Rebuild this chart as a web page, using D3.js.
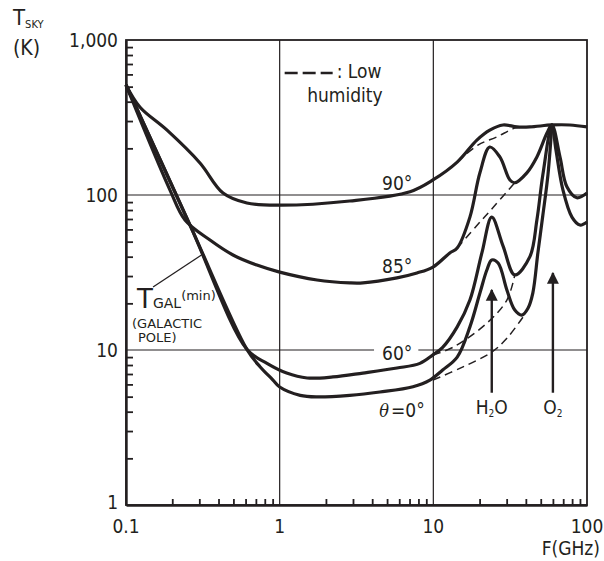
<!DOCTYPE html>
<html lang="en">
<head>
    <meta charset="UTF-8">
    <title>Sky noise temperature</title>
    <script type="application/javascript" src="https://cdn.jsdelivr.net/npm/d3@7"></script>
    <style type="text/css">
        body {
            margin: 0;
            background: #fff;
        }

        svg {
            display: block;
        }

        .lbl {
            font-family: "Liberation Sans Narrow", "DejaVu Sans Condensed", sans-serif;
            font-stretch: condensed;
            fill: #231f20;
        }

        .hand {
            font-family: "DejaVu Sans", sans-serif;
            fill: #231f20;
        }

        .curve {
            fill: none;
            stroke: #231f20;
            stroke-width: 3.2;
            stroke-linejoin: round;
        }

        .dash {
            fill: none;
            stroke: #231f20;
            stroke-width: 1.5;
            stroke-dasharray: 8, 5;
        }

        .grid {
            stroke: #231f20;
            stroke-width: 1.2;
        }

        .axis path, .axis line {
            stroke: #231f20;
        }
    </style>
</head>
<body>
<svg width="604" height="561"></svg>
<script type="application/javascript">
    // tick values and labels
    var X_TICKS = [0.1, 1, 10, 100];
    var X_TICK_LABELS = ['0.1', '1', '10', '100'];
    var Y_TICKS = [1, 10, 100, 1000];
    var Y_TICK_LABELS = ['1', '10', '100', '1,000'];
    var X_GRID = [1, 10];
    var Y_GRID = [10, 100];

    // theta = 90 deg
    var DEG90_F = [0.1, 0.123, 0.185, 0.303, 0.428, 0.612, 1.0, 2.86, 7.05, 9.94, 14.3, 19.2, 23.3, 28.4, 35, 42.5, 59.1, 77.4, 100];
    var DEG90_T = [513, 370, 262, 161, 103, 88.8, 86, 91.5, 105, 125, 163, 226, 262, 283, 275, 275, 283, 283, 275];
    var DEG90_LOW_F = [14.3, 19.5, 25.9, 33.9, 40];
    var DEG90_LOW_T = [163, 210, 237, 270, 275];

    // theta = 85 deg
    var DEG85_F = [0.1, 0.193, 0.242, 0.352, 0.497, 0.711, 1.0, 1.75, 2.86, 3.48, 5.8, 7.82, 9.94, 12.8, 14.3, 17.3, 20.1, 23.3, 27.1, 31.5, 33.9, 40.6, 47.2, 54.9, 59.1, 66.7, 74, 85.9, 100];
    var DEG85_T = [513, 108, 69, 51.2, 41.0, 35.3, 31.8, 28.3, 27.1, 27.1, 29.2, 31.4, 34.3, 42.3, 45.5, 72, 139, 204, 176, 125, 120, 139, 176, 251, 283, 176, 113, 96, 103];
    var DEG85_LOW_F = [14.3, 19.2, 24.4, 33.9];
    var DEG85_LOW_T = [45.5, 63.6, 82.8, 120];

    // theta = 60 deg
    var DEG60_F = [0.1, 0.261, 0.612, 0.827, 1.11, 1.51, 2.22, 3.48, 5.8, 8.18, 9.94, 11.5, 14.3, 17.3, 20.7, 24.0, 28.4, 33.9, 42.5, 47.2, 51.6, 59.1, 62.8, 69.7, 79.8, 89.9, 100];
    var DEG60_T = [513, 64, 10.1, 8.2, 7.1, 6.6, 6.7, 7.1, 7.65, 8.2, 9.3, 10.4, 14.1, 21.0, 42.3, 72, 47, 30.5, 40, 69, 135, 283, 195, 108, 72, 64, 67];
    var DEG60_LOW_F = [9.94, 13.4, 22.3, 30.1, 33.9];
    var DEG60_LOW_T = [9.3, 10.4, 14.9, 21, 30.5];

    // theta = 0 deg (and T_GAL min at low frequency)
    var DEG0_F = [0.1, 0.261, 0.612, 0.745, 0.905, 1.0, 1.36, 1.75, 2.86, 4.49, 7.37, 9.5, 11.5, 14.3, 17.3, 20.1, 22.3, 24.0, 26.4, 30.1, 33.9, 37.7, 41.3, 44.4, 47.9, 51.6, 55.7, 59.1];
    var DEG0_T = [513, 64, 10.1, 7.8, 6.4, 5.77, 5.1, 4.98, 5.1, 5.36, 5.8, 6.4, 7.43, 9.0, 14.1, 23.3, 32.8, 38.1, 36.4, 24.4, 18.1, 16.8, 18.6, 23.3, 42.3, 74, 135, 283];
    var DEG0_LOW_F = [9.94, 15.6, 24.0, 30.1, 38.3];
    var DEG0_LOW_T = [6.4, 7.78, 9.7, 11.9, 16.3];

    // absorption line arrows: frequency, tail T, tip T
    var LINE_NAMES = ['H', 'O'];
    var LINE_F = [24.0, 60];
    var LINE_TAIL_T = [5.3, 5.3];
    var LINE_TIP_T = [24.4, 31.4];

    var svg = d3.select('svg');
    var margin = {top: 40, right: 17, bottom: 56, left: 126};
    var width = +svg.attr('width') - margin.left - margin.right;
    var height = +svg.attr('height') - margin.top - margin.bottom;

    var x = d3.scaleLog().domain([0.1, 100]).range([margin.left, margin.left + width]);
    var y = d3.scaleLog().domain([1, 1000]).range([margin.top + height, margin.top]);

    function zip(fs, ts) {
        return fs.map(function (f, i) { return [f, ts[i]]; });
    }

    var line = d3.line()
            .x(function (d) { return x(d[0]); })
            .y(function (d) { return y(d[1]); })
            .curve(d3.curveCatmullRom.alpha(0.5));

    // minor ticks 2..9 of each decade
    function minors(lo, hi) {
        var out = [];
        for (var e = lo; e < hi; e *= 10) {
            for (var k = 2; k <= 9; k++) out.push(e * k);
        }
        return out;
    }

    // grid
    svg.append('g').selectAll('line')
            .data(X_GRID).enter().append('line')
            .attr('class', 'grid')
            .attr('x1', function (d) { return x(d); })
            .attr('x2', function (d) { return x(d); })
            .attr('y1', y(1000)).attr('y2', y(1));
    svg.append('g').selectAll('line')
            .data(Y_GRID).enter().append('line')
            .attr('class', 'grid')
            .attr('y1', function (d) { return y(d); })
            .attr('y2', function (d) { return y(d); })
            .attr('x1', x(0.1)).attr('x2', x(100));

    // frame: top and right thin
    svg.append('rect')
            .attr('x', x(0.1)).attr('y', y(1000))
            .attr('width', width).attr('height', height)
            .attr('fill', 'none').attr('stroke', '#231f20').attr('stroke-width', 1.8);

    // labels that sit on the grid get a white box
    function degLabel(txt, f, t, boxed) {
        var g = svg.append('g');
        var tx = g.append('text')
                .attr('class', 'lbl')
                .attr('x', x(f)).attr('y', y(t))
                .attr('text-anchor', 'end')
                .attr('font-size', 19)
                .text(txt);
        if (boxed) {
            var b = tx.node().getBBox();
            g.insert('rect', 'text')
                    .attr('x', b.x - 8).attr('y', b.y)
                    .attr('width', b.width + 14).attr('height', b.height)
                    .attr('fill', '#fff');
        }
        return tx;
    }

    degLabel('90°', 7.3, 108, false);
    degLabel('85°', 7.3, 31.4, false);
    degLabel('60°', 7.3, 8.6, true);
    var th = svg.append('text')
            .attr('class', 'lbl')
            .attr('x', x(8.8)).attr('y', y(3.7))
            .attr('text-anchor', 'end')
            .attr('font-size', 19);
    th.append('tspan').attr('font-style', 'italic').attr('font-family', 'DejaVu Serif, serif').attr('font-size', 18).text('θ');
    th.append('tspan').text('=0°').attr('dx', 2);

    // curves
    var solids = [zip(DEG90_F, DEG90_T), zip(DEG85_F, DEG85_T), zip(DEG60_F, DEG60_T), zip(DEG0_F, DEG0_T)];
    var dashes = [zip(DEG90_LOW_F, DEG90_LOW_T), zip(DEG85_LOW_F, DEG85_LOW_T),
        zip(DEG60_LOW_F, DEG60_LOW_T), zip(DEG0_LOW_F, DEG0_LOW_T)];

    svg.append('g').selectAll('path')
            .data(dashes).enter().append('path')
            .attr('class', 'dash')
            .attr('d', line);
    svg.append('g').selectAll('path')
            .data(solids).enter().append('path')
            .attr('class', 'curve')
            .attr('d', line);

    // axes: minor ticks pointing inward
    svg.append('g')
            .attr('class', 'axis')
            .attr('transform', 'translate(' + x(0.1) + ',0)')
            .call(d3.axisRight(y).tickValues(minors(1, 1000)).tickSize(7).tickSizeOuter(0).tickFormat(''))
            .call(function (g) { g.select('.domain').attr('stroke-width', 2.4); })
            .selectAll('line').attr('stroke-width', 1.8);
    svg.append('g')
            .attr('class', 'axis')
            .attr('transform', 'translate(0,' + y(1) + ')')
            .call(d3.axisTop(x).tickValues(minors(0.1, 100)).tickSize(6).tickSizeOuter(0).tickFormat(''))
            .call(function (g) { g.select('.domain').attr('stroke-width', 2.4); })
            .selectAll('line').attr('stroke-width', 1.8);

    // tick labels
    svg.append('g').selectAll('text')
            .data(Y_TICKS).enter().append('text')
            .attr('class', 'lbl')
            .attr('x', x(0.1) - 8)
            .attr('y', function (d) { return y(d); })
            .attr('dy', function (d) { return d === 1 ? '0.2em' : '0.36em'; })
            .attr('text-anchor', 'end')
            .attr('font-size', 19)
            .text(function (d, i) { return Y_TICK_LABELS[i]; });
    svg.append('g').selectAll('text')
            .data(X_TICKS).enter().append('text')
            .attr('class', 'lbl')
            .attr('x', function (d) { return x(d); })
            .attr('y', y(1) + 28)
            .attr('text-anchor', 'middle')
            .attr('font-size', 19)
            .text(function (d, i) { return X_TICK_LABELS[i]; });

    // axis titles
    svg.append('text').attr('class', 'lbl')
            .attr('x', 600).attr('y', 555)
            .attr('text-anchor', 'end').attr('font-size', 19)
            .text('F(GHz)');
    var ty = svg.append('text').attr('class', 'lbl').attr('x', 13).attr('y', 25).attr('font-size', 22);
    ty.append('tspan').text('T');
    ty.append('tspan').attr('font-size', 11).attr('dy', 3).text('SKY');
    svg.append('text').attr('class', 'lbl')
            .attr('x', 13).attr('y', 55).attr('font-size', 21)
            .text('(K)');

    // legend
    var lgX = x(1) + 5;
    var lgY = y(1000) + 33;
    svg.append('line')
            .attr('x1', lgX).attr('x2', lgX + 48)
            .attr('y1', lgY).attr('y2', lgY)
            .attr('stroke', '#231f20').attr('stroke-width', 2.4)
            .attr('stroke-dasharray', '13,5');
    svg.append('text').attr('class', 'lbl')
            .attr('x', lgX + 52).attr('y', lgY + 5).attr('font-size', 19)
            .text(': Low');
    svg.append('text').attr('class', 'lbl')
            .attr('x', lgX + 98).attr('y', lgY + 29).attr('font-size', 19)
            .attr('text-anchor', 'end')
            .text('humidity');

    // absorption arrows
    svg.append('defs').append('marker')
            .attr('id', 'head')
            .attr('viewBox', '0 0 10 10')
            .attr('refX', 9).attr('refY', 5)
            .attr('markerWidth', 5).attr('markerHeight', 5.5)
            .attr('markerUnits', 'strokeWidth')
            .attr('orient', 'auto')
            .append('path').attr('d', 'M0,0 L10,5 L0,10 Z').attr('fill', '#231f20');
    var arrows = svg.append('g').selectAll('g')
            .data(LINE_F).enter().append('g');
    arrows.append('line')
            .attr('x1', function (d) { return x(d); })
            .attr('x2', function (d) { return x(d); })
            .attr('y1', function (d, i) { return y(LINE_TAIL_T[i]); })
            .attr('y2', function (d, i) { return y(LINE_TIP_T[i]); })
            .attr('stroke', '#231f20').attr('stroke-width', 2.4)
            .attr('marker-end', 'url(#head)');
    var al = arrows.append('text')
            .attr('class', 'lbl')
            .attr('x', function (d) { return x(d); })
            .attr('y', y(1) - 91)
            .attr('text-anchor', 'middle')
            .attr('font-size', 19);
    al.append('tspan').text(function (d, i) { return LINE_NAMES[i]; });
    al.filter(function (d, i) { return i === 0; })
            .append('tspan').attr('font-size', 10).attr('dy', 3).text('2');
    al.filter(function (d, i) { return i === 0; })
            .append('tspan').attr('dy', -3).text('O');
    al.filter(function (d, i) { return i === 1; })
            .append('tspan').attr('font-size', 10).attr('dy', 3).text('2');

    // T_GAL(min) annotation
    svg.append('line')
            .attr('x1', x(0.15)).attr('y1', y(25.5))
            .attr('x2', x(0.31)).attr('y2', y(41))
            .attr('stroke', '#231f20').attr('stroke-width', 1.3);
    var tg = svg.append('text').attr('class', 'hand')
            .attr('x', x(0.1) + 11).attr('y', y(10) - 42);
    tg.append('tspan').attr('font-size', 26).text('T');
    tg.append('tspan').attr('font-size', 14).text('GAL');
    tg.append('tspan').attr('font-size', 13).attr('dy', -8).text('(min)');
    svg.append('text').attr('class', 'hand')
            .attr('x', x(0.1) + 6).attr('y', y(10) - 22)
            .attr('font-size', 13)
            .text('(GALACTIC');
    svg.append('text').attr('class', 'hand')
            .attr('x', x(0.1) + 12).attr('y', y(10) - 8)
            .attr('font-size', 13)
            .text('POLE)');
</script>
</body>
</html>
